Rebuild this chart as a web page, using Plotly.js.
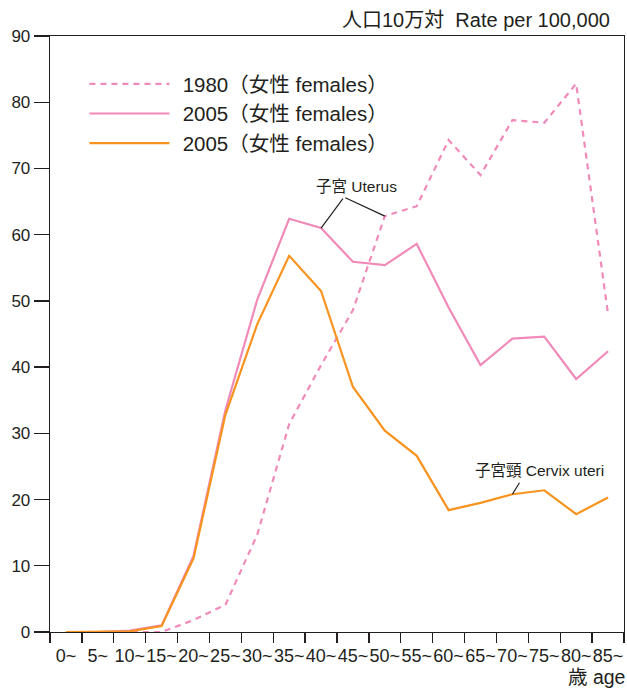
<!DOCTYPE html>
<html>
<head>
<meta charset="utf-8">
<script src="https://cdn.plot.ly/plotly-3.0.1.min.js"></script>
<style>html,body{margin:0;padding:0;background:#fff;}#chart{width:627px;height:691px;}</style>
</head>
<body>
<div id="chart"></div>
<script>
const ageGroups = ['0~','5~','10~','15~','20~','25~','30~','35~','40~','45~','50~','55~','60~','65~','70~','75~','80~','85~'];
const uterus1980 = [0, 0, 0, 0, 1.8, 4.1, 14.7, 31.4, 40.3, 48.6, 62.8, 64.3, 74.3, 69.0, 77.3, 76.9, 82.8, 48.0];
const uterus2005 = [0, 0, 0.2, 1.0, 11.5, 33.5, 50.2, 62.4, 61.0, 55.9, 55.4, 58.6, 49.0, 40.3, 44.3, 44.6, 38.2, 42.4];
const cervix2005 = [0, 0, 0.1, 0.9, 11.1, 32.8, 46.5, 56.8, 51.5, 37.0, 30.4, 26.6, 18.4, 19.5, 20.8, 21.4, 17.8, 20.3];
const seriesNames = ['1980（女性 females）', '2005（女性 females）', '2005（女性 females）'];
const yTitle = '人口10万対  Rate per 100,000';
const xTitle = '歳 age';
const labelUterus = '子宮 Uterus';
const labelCervix = '子宮頸 Cervix uteri';

const FONT = 'Liberation Sans, Arial, Noto Sans CJK JP, sans-serif';
const INK = '#231f20';
const PINK = '#f08ab9';
const ORANGE = '#f7931e';
const GAP = '\u2009\u2009';

const traces = [
  {x: ageGroups, y: uterus1980, name: GAP + seriesNames[0], type: 'scatter', mode: 'lines',
   line: {color: PINK, width: 2.2, dash: '6px,5px'}},
  {x: ageGroups, y: uterus2005, name: GAP + seriesNames[1], type: 'scatter', mode: 'lines',
   line: {color: PINK, width: 2.2}},
  {x: ageGroups, y: cervix2005, name: GAP + seriesNames[2], type: 'scatter', mode: 'lines',
   line: {color: ORANGE, width: 2.2}}
];

const layout = {
  width: 627, height: 691,
  margin: {l: 50, r: 3, t: 36, b: 59},
  paper_bgcolor: '#fff', plot_bgcolor: '#fff',
  font: {family: FONT, color: INK, size: 16},
  showlegend: true,
  legend: {x: 0.06, y: 0.953, xanchor: 'left', yanchor: 'top', bgcolor: 'rgba(0,0,0,0)',
           font: {size: 20.5, color: INK, family: FONT}, itemwidth: 80, tracegroupgap: 0},
  xaxis: {type: 'category', range: [-0.5, 17.5], showgrid: false, zeroline: false,
          showline: true, linecolor: INK, linewidth: 1.3, mirror: true,
          ticks: 'outside', tickson: 'boundaries', ticklen: 10, tickcolor: INK, tickwidth: 1.3,
          ticklabelstandoff: 7,
          tickfont: {size: 18, color: INK}, tickangle: 0, fixedrange: true},
  yaxis: {range: [0, 90], dtick: 10, showgrid: false, zeroline: false,
          showline: true, linecolor: INK, linewidth: 1.3, mirror: true,
          ticks: 'outside', ticklen: 15, tickcolor: INK, tickwidth: 1.3,
          tickfont: {size: 17, color: INK}, fixedrange: true},
  annotations: [
    {xref: 'paper', yref: 'paper', x: 0.979, y: 1.0, yshift: 3, xanchor: 'right', yanchor: 'bottom',
     text: yTitle, showarrow: false, font: {size: 20, color: INK}},
    {xref: 'paper', yref: 'paper', x: 1.0, xshift: 3, y: 0, yshift: -58, xanchor: 'right', yanchor: 'bottom',
     text: xTitle, showarrow: false, font: {size: 19.5, color: INK}},
    {x: '40~', y: uterus2005[8], ax: 23, ay: -31, text: '', showarrow: true, arrowhead: 0,
     arrowwidth: 1.2, arrowcolor: INK, standoff: 0},
    {x: '50~', y: uterus1980[10], ax: -41, ay: -19, text: '', showarrow: true, arrowhead: 0,
     arrowwidth: 1.2, arrowcolor: INK, standoff: 0},
    {x: '40~', y: uterus2005[8], xshift: 35, yshift: 42, text: labelUterus, showarrow: false,
     font: {size: 15.5, color: INK}},
    {x: '70~', y: cervix2005[14], ax: 8, ay: -13, text: '', showarrow: true, arrowhead: 0,
     arrowwidth: 1.2, arrowcolor: INK, standoff: 0},
    {x: '70~', y: cervix2005[14], xshift: 27, yshift: 24, text: labelCervix, showarrow: false,
     font: {size: 15.5, color: INK}}
  ]
};

Plotly.newPlot('chart', traces, layout, {displayModeBar: false, staticPlot: true});
</script>
</body>
</html>
